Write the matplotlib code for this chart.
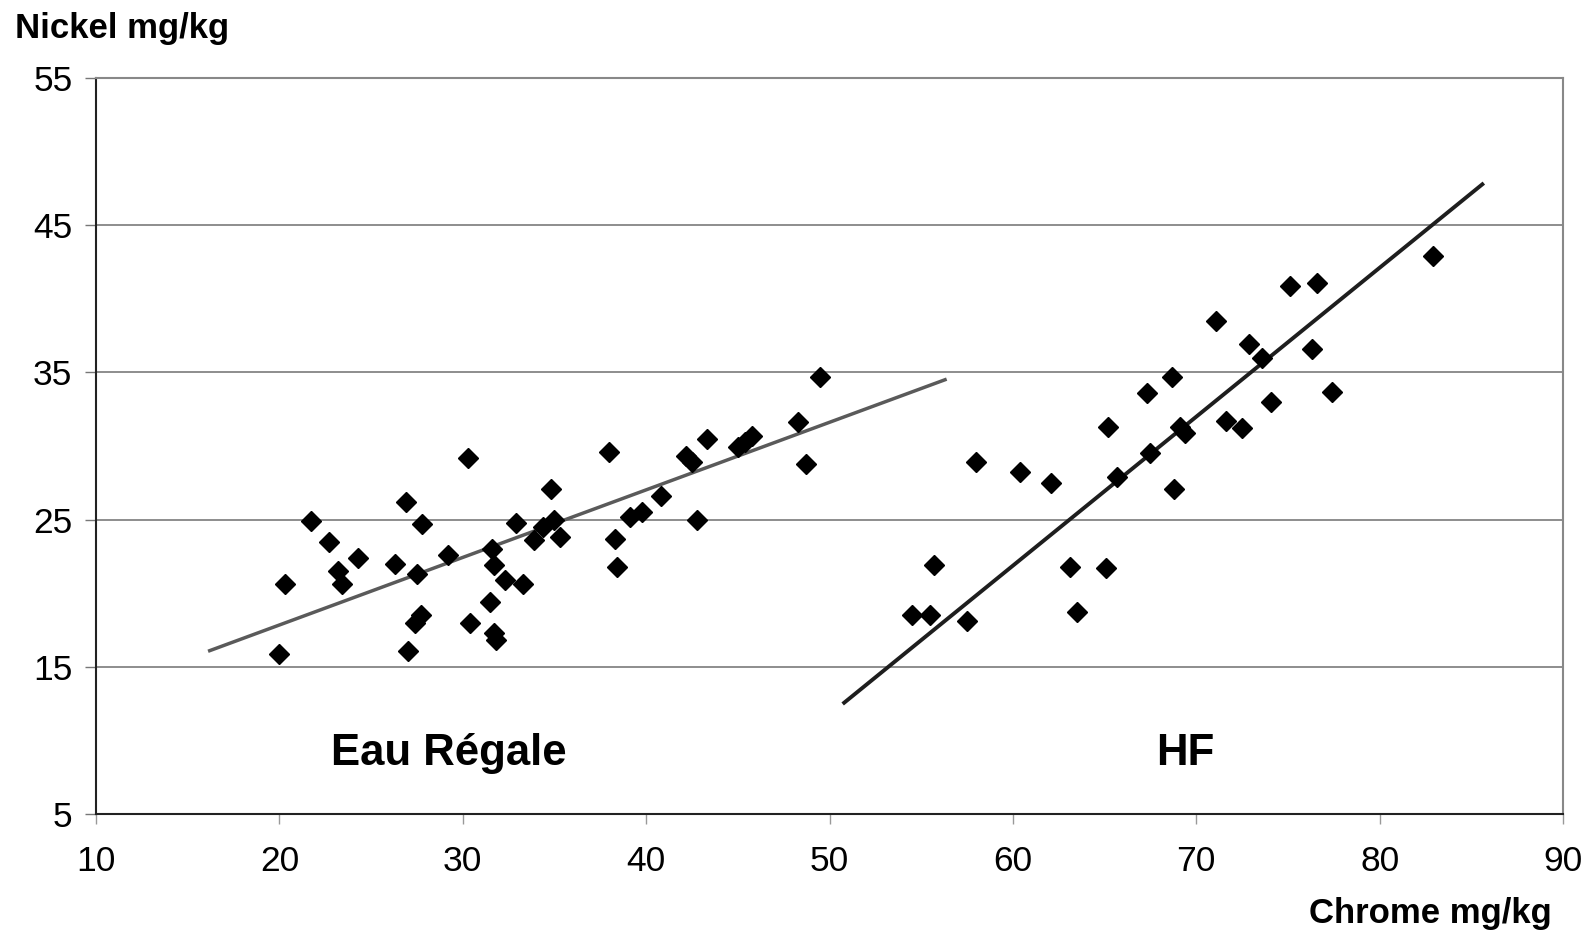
import numpy as np
import matplotlib
matplotlib.use('Agg')
import matplotlib.pyplot as plt

plt.rcParams['font.family'] = ['Liberation Sans', 'DejaVu Sans']

# Eau Régale : chrome / nickel (mg/kg)
er_chrome = [20.0, 20.3, 21.7, 22.7, 23.2, 23.4, 24.3, 26.3, 26.9, 27.0,
             27.4, 27.5, 27.7, 27.8, 29.2, 30.3, 30.4, 31.5, 31.6, 31.7,
             31.7, 31.8, 32.3, 32.9, 33.3, 33.9, 34.4, 34.8, 35.0, 35.3,
             38.0, 38.3, 38.4, 39.1, 39.8, 40.8, 42.2, 42.5, 42.8, 43.3,
             45.0, 45.4, 45.8, 48.3, 48.7, 49.5]
er_nickel = [15.9, 20.6, 24.9, 23.5, 21.5, 20.6, 22.4, 22.0, 26.2, 16.1,
             18.0, 21.3, 18.5, 24.7, 22.6, 29.2, 18.0, 19.4, 23.0, 21.9,
             17.3, 16.8, 20.9, 24.8, 20.6, 23.6, 24.5, 27.1, 25.0, 23.8,
             29.6, 23.7, 21.8, 25.2, 25.5, 26.6, 29.3, 28.9, 25.0, 30.5,
             29.9, 30.3, 30.7, 31.6, 28.8, 34.7]

# HF
hf_chrome = [54.5, 55.5, 55.7, 57.5, 58.0, 60.4, 62.1, 63.1, 63.5, 65.1,
             65.2, 65.7, 67.3, 67.5, 68.7, 68.8, 69.1, 69.4, 71.1, 71.6,
             72.5, 72.9, 73.6, 74.1, 75.1, 76.3, 76.6, 77.4, 82.9]
hf_nickel = [18.5, 18.5, 21.9, 18.1, 28.9, 28.2, 27.5, 21.8, 18.7, 21.7,
             31.3, 27.9, 33.6, 29.5, 34.7, 27.1, 31.3, 30.9, 38.5, 31.7,
             31.2, 36.9, 36.0, 33.0, 40.9, 36.6, 41.1, 33.7, 42.9]

# droites de tendance (pente, ordonnée, étendue en x)
er_fit = (0.459, 8.66)
er_fit_range = (16.2, 56.3)
hf_fit = (1.012, -38.85)
hf_fit_range = (50.8, 85.6)

xticks = [10, 20, 30, 40, 50, 60, 70, 80, 90]
yticks = [5, 15, 25, 35, 45, 55]

W, H = 1583, 933
fig = plt.figure(figsize=(W / 100, H / 100), dpi=100)
ax = fig.add_axes([96 / W, 1 - 814 / H, (1563 - 96) / W, (814 - 78) / H])

ax.set_xlim(10, 90)
ax.set_ylim(5, 55)
ax.set_xticks(xticks)
ax.set_yticks(yticks)
ax.grid(axis='y', color='#7a7a7a', linewidth=1.2)
ax.set_axisbelow(True)

for name in ['top', 'right']:
    ax.spines[name].set_color('#888888')
    ax.spines[name].set_linewidth(1.5)
for name in ['left', 'bottom']:
    ax.spines[name].set_color('#222222')
    ax.spines[name].set_linewidth(1.5)

ax.tick_params(axis='y', direction='out', length=8, width=1, color='#777777',
               labelsize=25.5, pad=9)
ax.tick_params(axis='x', direction='out', length=7, width=1, color='#999999',
               labelsize=25.5, pad=15.5)

# tendances
xe = np.array(er_fit_range)
ax.plot(xe, er_fit[0] * xe + er_fit[1], color='#5a5a5a', linewidth=2.5, zorder=2)
xh = np.array(hf_fit_range)
ax.plot(xh, hf_fit[0] * xh + hf_fit[1], color='#1e1e1e', linewidth=2.8, zorder=2)

# points
ax.plot(er_chrome, er_nickel, 'D', color='black', markersize=10, linestyle='none', zorder=3)
ax.plot(hf_chrome, hf_nickel, 'D', color='black', markersize=10, linestyle='none', zorder=3)

ax.text(22.8, 8.3, 'Eau Régale', fontsize=31.5, fontweight='bold', va='baseline')
ax.text(67.8, 8.3, 'HF', fontsize=31.5, fontweight='bold', va='baseline')

fig.text(15 / W, 1 - 38 / H, 'Nickel mg/kg', fontsize=25, fontweight='bold',
         ha='left', va='baseline')
fig.text(1552 / W, 1 - 923 / H, 'Chrome mg/kg', fontsize=25, fontweight='bold',
         ha='right', va='baseline')

fig.savefig('out.png', dpi=100)
